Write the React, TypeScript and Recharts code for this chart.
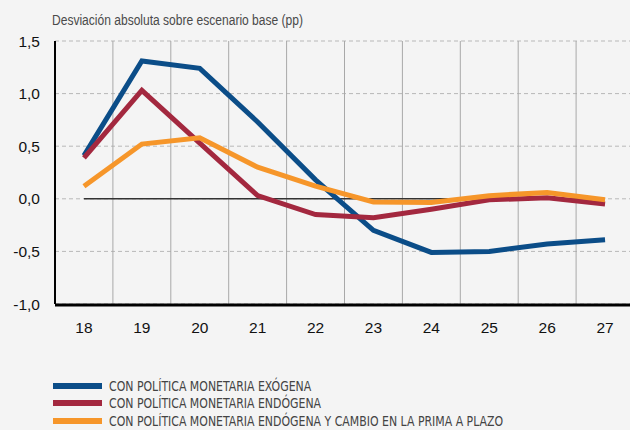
import React from "react";
import { CartesianGrid, Line, LineChart, ReferenceLine, XAxis, YAxis } from "recharts";

const years = [18, 19, 20, 21, 22, 23, 24, 25, 26, 27];
const bandEdges = [18.5, 19.5, 20.5, 21.5, 22.5, 23.5, 24.5, 25.5, 26.5];
const yTicks = [-1, -0.5, 0, 0.5, 1, 1.5];

const exogena = [0.41, 1.31, 1.24, 0.73, 0.18, -0.3, -0.51, -0.5, -0.43, -0.39];
const endogena = [0.39, 1.03, 0.53, 0.03, -0.15, -0.18, -0.1, -0.01, 0.01, -0.05];
const endogenaPrima = [0.12, 0.52, 0.58, 0.3, 0.12, -0.03, -0.035, 0.03, 0.06, -0.01];

const series = [
  { key: "exogena", name: "CON POLÍTICA MONETARIA EXÓGENA", color: "#0b4d88", values: exogena },
  { key: "endogena", name: "CON POLÍTICA MONETARIA ENDÓGENA", color: "#a3283f", values: endogena },
  {
    key: "prima",
    name: "CON POLÍTICA MONETARIA ENDÓGENA Y CAMBIO EN LA PRIMA A PLAZO",
    color: "#f6962a",
    values: endogenaPrima,
  },
];

const data = years.map((year, i) => {
  const row: Record<string, number> = { year };
  series.forEach((s) => {
    row[s.key] = s.values[i];
  });
  return row;
});

const fmt = (v: number) => v.toFixed(1).replace(".", ",");

export default function App() {
  return (
    <div
      style={{
        position: "fixed",
        left: 0,
        top: 0,
        width: 630,
        height: 430,
        overflow: "hidden",
        background: "#f4f4f4",
        fontFamily: "'Liberation Sans', Arial, sans-serif",
      }}
    >
      <div
        style={{
          position: "absolute",
          left: 52,
          top: 12,
          fontSize: 14,
          color: "#4a4a4a",
          whiteSpace: "nowrap",
          transform: "scaleX(0.86)",
          transformOrigin: "left center",
        }}
      >
        Desviación absoluta sobre escenario base (pp)
      </div>
      <div style={{ position: "absolute", left: 0, top: 0 }}>
        <LineChart
          width={634}
          height={345}
          data={data}
          margin={{ top: 41, right: 0, left: 0, bottom: 0 }}
        >
          <CartesianGrid
            vertical={false}
            stroke="#b8b8b8"
            strokeDasharray="4 3"
            xAxisId="yr"
          />
          <XAxis
            xAxisId="bd"
            type="number"
            dataKey="year"
            domain={[17.5, 27.5]}
            ticks={bandEdges}
            tick={false}
            tickSize={5}
            tickLine={{ stroke: "#000", strokeWidth: 1.5 }}
            axisLine={false}
            height={1}
          />
          <XAxis
            xAxisId="yr"
            type="number"
            dataKey="year"
            domain={[17.5, 27.5]}
            ticks={years}
            tickLine={false}
            tickSize={0}
            tickMargin={17}
            axisLine={{ stroke: "#000", strokeWidth: 3 }}
            tick={{ fill: "#111", fontSize: 15.5 }}
            height={40}
          />
          <YAxis
            type="number"
            domain={[-1, 1.5]}
            ticks={yTicks}
            tickFormatter={fmt}
            width={55}
            tickLine={false}
            tickSize={0}
            tickMargin={15}
            axisLine={{ stroke: "#000", strokeWidth: 2 }}
            tick={{ fill: "#111", fontSize: 15.5 }}
          />
          {bandEdges.map((e) => (
            <ReferenceLine key={e} xAxisId="bd" x={e} stroke="#a8a8a8" strokeWidth={1} />
          ))}
          <ReferenceLine
            xAxisId="yr"
            segment={[
              { x: years[0], y: 0 },
              { x: years[years.length - 1], y: 0 },
            ]}
            stroke="#333"
            strokeWidth={1.5}
          />
          {series.map((s) => (
            <Line
              key={s.key}
              xAxisId="yr"
              type="linear"
              dataKey={s.key}
              name={s.name}
              stroke={s.color}
              strokeWidth={5}
              strokeLinejoin="miter"
              strokeLinecap="butt"
              dot={false}
              isAnimationActive={false}
            />
          ))}
        </LineChart>
      </div>
      <div style={{ position: "absolute", left: 53, top: 377 }}>
        {series.map((s) => (
          <div key={s.key} style={{ display: "flex", alignItems: "center", height: 17.5 }}>
            <div style={{ width: 49, height: 6, background: s.color, flexShrink: 0 }} />
            <span
              style={{
                marginLeft: 7,
                fontSize: 13.5,
                color: "#444",
                fontFamily: "'DejaVu Sans Condensed', 'Liberation Sans', sans-serif",
                whiteSpace: "nowrap",
                transform: "scaleX(0.9)",
                transformOrigin: "left center",
              }}
            >
              {s.name}
            </span>
          </div>
        ))}
      </div>
    </div>
  );
}
